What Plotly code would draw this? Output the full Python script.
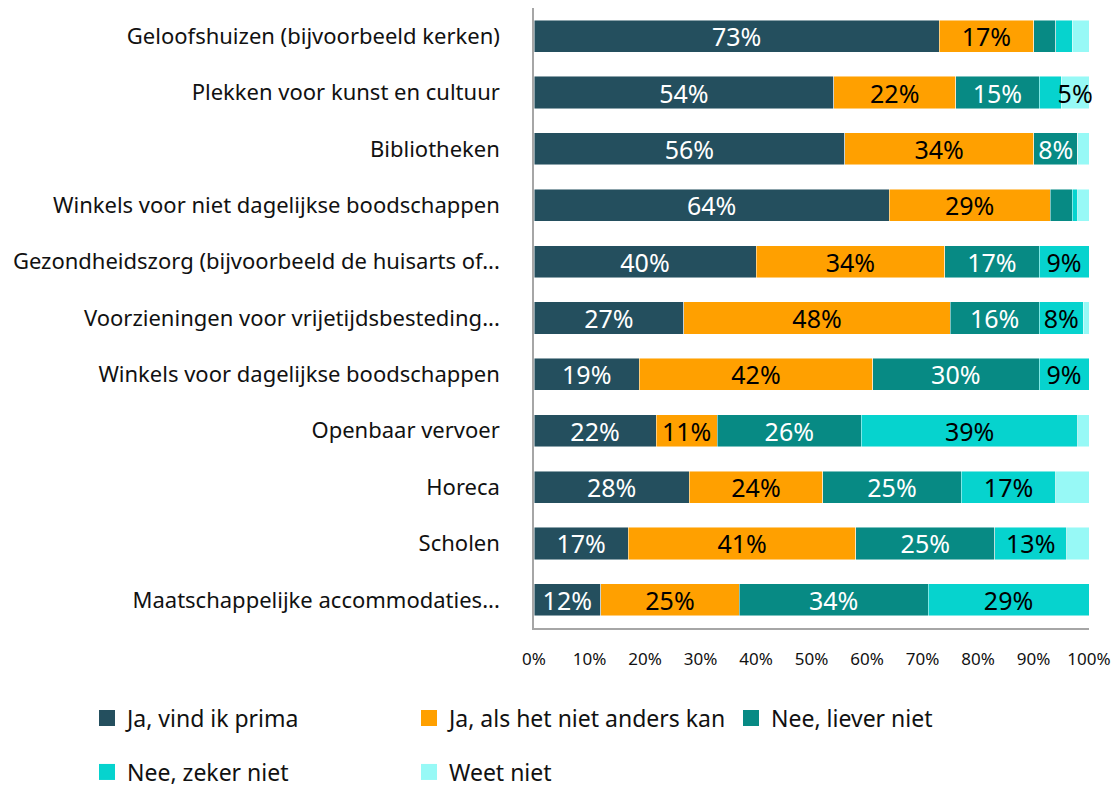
import plotly.graph_objects as go

categories = [
    "Geloofshuizen (bijvoorbeeld kerken)",
    "Plekken voor kunst en cultuur",
    "Bibliotheken",
    "Winkels voor niet dagelijkse boodschappen",
    "Gezondheidszorg (bijvoorbeeld de huisarts of...",
    "Voorzieningen voor vrijetijdsbesteding...",
    "Winkels voor dagelijkse boodschappen",
    "Openbaar vervoer",
    "Horeca",
    "Scholen",
    "Maatschappelijke accommodaties...",
]

series_names = [
    "Ja, vind ik prima",
    "Ja, als het niet anders kan",
    "Nee, liever niet",
    "Nee, zeker niet",
    "Weet niet",
]

ja_prima = [73, 54, 56, 64, 40, 27, 19, 22, 28, 17, 12]
ja_anders = [17, 22, 34, 29, 34, 48, 42, 11, 24, 41, 25]
nee_liever = [4, 15, 8, 4, 17, 16, 30, 26, 25, 25, 34]
nee_zeker = [3, 4, 0, 1, 9, 8, 9, 39, 17, 13, 29]
weet_niet = [3, 5, 2, 2, 0, 1, 0, 2, 6, 4, 0]

series_values = [ja_prima, ja_anders, nee_liever, nee_zeker, weet_niet]

tick_values = [0, 10, 20, 30, 40, 50, 60, 70, 80, 90, 100]
tick_labels = [f"{v}%" for v in tick_values]

# labels not shown in the original chart
hidden_labels = {("Weet niet", "Horeca")}

colors = ["#244F5E", "#FFA000", "#078A84", "#06D3CE", "#97F9F6"]
text_colors = ["white", "black", "white", "black", "black"]

FONT = "Noto Sans"

fig = go.Figure()
for name, vals, col, tcol in zip(series_names, series_values, colors, text_colors):
    texts = []
    for cat, v in zip(categories, vals):
        if v >= 5 and (name, cat) not in hidden_labels:
            texts.append(f"{v}%")
        else:
            texts.append("")
    fig.add_trace(go.Bar(
        y=categories, x=vals, orientation="h", name=name,
        marker=dict(color=col, line=dict(color="rgba(255,255,255,0.6)", width=0.8)),
        text=texts, textposition="inside", insidetextanchor="middle", textangle=0,
        textfont=dict(color=tcol, size=25, family=FONT),
        showlegend=False, hoverinfo="x+y+name", cliponaxis=False,
    ))

# legend entries (square symbols)
for i, (name, col) in enumerate(zip(series_names, colors)):
    fig.add_trace(go.Scatter(
        x=[None], y=[None], mode="markers", name=name,
        marker=dict(symbol="square", size=20, color=col),
        legend="legend" if i < 3 else "legend2", showlegend=True,
    ))

# plot area in pixels: left 534, right 1089, top 8, bottom 628
PL, PW, PT, PH = 534, 555, 8, 620

legend_common = dict(
    orientation="h", xref="paper", yref="paper",
    xanchor="left", yanchor="middle", traceorder="normal",
    font=dict(size=23, family=FONT, color="#111111"),
    entrywidth=277, entrywidthmode="pixels", itemsizing="trace",
    bgcolor="rgba(0,0,0,0)",
)

fig.update_layout(
    barmode="stack",
    bargap=0.43,
    width=1114, height=789,
    margin=dict(l=534, r=25, t=8, b=161, autoexpand=False),
    plot_bgcolor="white", paper_bgcolor="white",
    font=dict(family=FONT, color="#111111"),
    uniformtext=dict(minsize=25, mode="show"),
    legend=dict(x=(87 - PL) / PW, y=(PT + PH - 718) / PH, **legend_common),
    legend2=dict(x=(87 - PL) / PW, y=(PT + PH - 772) / PH, **legend_common),
    xaxis=dict(
        range=[0, 100], tickvals=tick_values, ticktext=tick_labels,
        showgrid=False, zeroline=False, showline=True, linecolor="#A6A6A6", linewidth=1.5,
        ticks="", tickfont=dict(size=17, family=FONT, color="#111111"),
        ticklabelstandoff=15, fixedrange=True, automargin=False,
    ),
    yaxis=dict(
        categoryorder="array", categoryarray=categories, autorange="reversed",
        showgrid=False, zeroline=False, showline=True, linecolor="#A6A6A6", linewidth=1.5,
        ticks="", tickfont=dict(size=22, family=FONT, color="#111111"),
        ticklabelstandoff=28, fixedrange=True, automargin=False,
    ),
)

fig.write_html(
    "out.html",
    config={"displayModeBar": False},
    post_script="document.body.style.margin='0';document.body.style.overflow='hidden';",
)
